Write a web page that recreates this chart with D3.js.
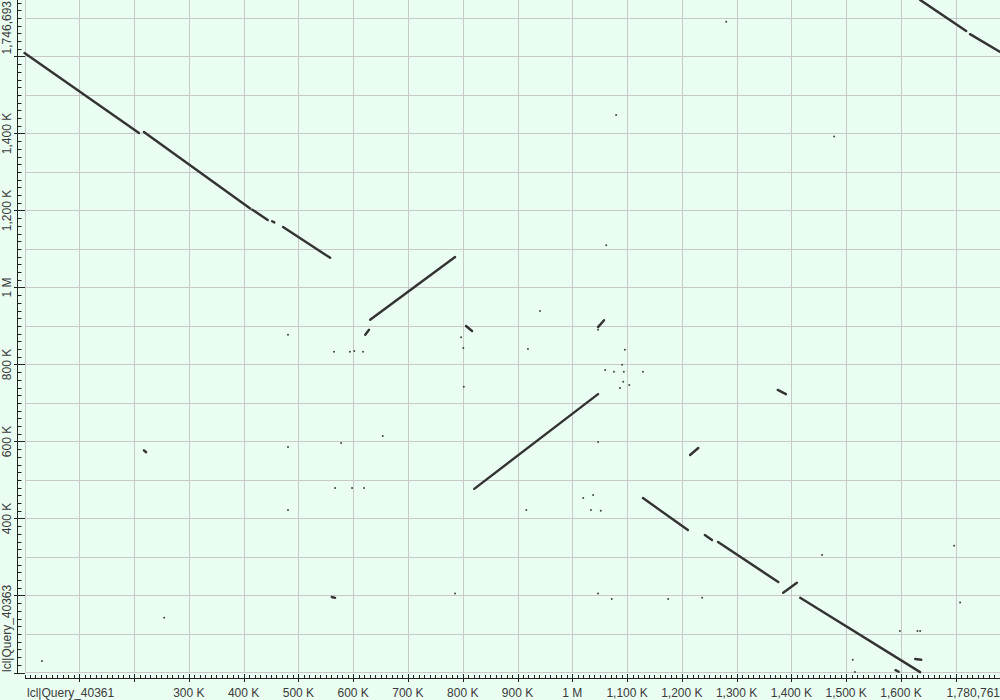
<!DOCTYPE html>
<html>
<head>
<meta charset="utf-8">
<script src="https://d3js.org/d3.v7.min.js"></script>
<style>
  html, body { margin: 0; padding: 0; background: #eafef2; }
  svg text { font-family: "Liberation Sans", Arial, sans-serif; font-size: 12px; fill: #3a3a3a; }
</style>
</head>
<body>
<div id="chart"></div>
<script>
// sequence names and lengths (bp)
const queryName = "lcl|Query_40361";
const subjectName = "lcl|Query_40363";
const queryLength = 1780761;
const subjectLength = 1746693;

// alignments: [queryStart, queryEnd, subjectStart, subjectEnd] in kb
const hits = [
    [0, 209, 1609, 1401],
    [218, 412, 1404, 1205],
    [416, 444, 1202, 1175],
    [452, 456, 1172, 1169],
    [472, 558, 1157, 1077],
    [622, 629, 877, 890],
    [631, 786, 916, 1079],
    [806, 817, 900, 887],
    [821, 1047, 477, 723],
    [1047, 1058, 897, 915],
    [1129, 1211, 453, 370],
    [1242, 1255, 357, 344],
    [1266, 1376, 339, 235],
    [1385, 1410, 207, 233],
    [1416, 1635, 194, 1],
    [1215, 1230, 565, 583],
    [1375, 1390, 734, 723],
    [1626, 1637, 35, 33],
    [1590, 1596, 6, 2],
    [1635, 1719, 1747, 1666],
    [1726, 1781, 1658, 1612],
    [218, 222, 577, 572],
    [561, 567, 196, 194]
];

// short hits that show up as dots: [query, subject] in kb
const dots = [
    [32, 30], [255, 142], [481, 877], [481, 586], [481, 422],
    [565, 833], [594, 833], [602, 835], [618, 833],
    [567, 479], [598, 479], [620, 479], [578, 596], [654, 614],
    [786, 205], [797, 871], [801, 843], [802, 742],
    [919, 840], [941, 939], [916, 422],
    [1020, 453], [1038, 461], [1034, 422], [1052, 420], [1047, 599], [1047, 890],
    [1096, 838], [1091, 799], [1060, 786], [1076, 781], [1094, 781], [1129, 781],
    [1093, 755], [1087, 739], [1104, 747],
    [1062, 1110], [1080, 1448], [1281, 1690], [1478, 1392],
    [1047, 205], [1072, 191], [1175, 191], [1237, 194],
    [1456, 305], [1512, 33], [1516, 1], [1598, 108], [1630, 108], [1635, 108],
    [1697, 329], [1708, 182]
];

// tick labels
const xLabelTicks = [300, 400, 500, 600, 700, 800, 900, 1000, 1100, 1200, 1300, 1400, 1500, 1600];
const yLabelTicks = [400, 600, 800, 1000, 1200, 1400];

const width = 1000, height = 700;
const svg = d3.select("#chart").append("svg")
    .attr("width", width)
    .attr("height", height);

const x = d3.scaleLinear().domain([0, queryLength]).range([24.5, 1000]);
const y = d3.scaleLinear().domain([0, subjectLength]).range([672.5, 0]);

const fmt = v => v === 1000 ? "1 M" : d3.format(",")(v) + " K";

// grid
svg.append("g").selectAll("line")
    .data(d3.range(100000, queryLength, 100000))
    .join("line")
    .attr("x1", d => Math.round(x(d)) + 0.5).attr("x2", d => Math.round(x(d)) + 0.5)
    .attr("y1", 0).attr("y2", 672)
    .attr("stroke", "#c8c8c8");

svg.append("g").selectAll("line")
    .data(d3.range(100000, subjectLength, 100000))
    .join("line")
    .attr("y1", d => Math.round(y(d)) + 0.5).attr("y2", d => Math.round(y(d)) + 0.5)
    .attr("x1", 25).attr("x2", 1000)
    .attr("stroke", "#c8c8c8");

// plot frame
svg.append("line").attr("x1", 25.5).attr("x2", 25.5).attr("y1", 0).attr("y2", 672.5).attr("stroke", "#c8c8c8");
svg.append("line").attr("x1", 25).attr("x2", 1000).attr("y1", 672.5).attr("y2", 672.5).attr("stroke", "#c8c8c8");

// x axis
const xAxis = svg.append("g");
xAxis.append("line").attr("x1", 25).attr("x2", 1000).attr("y1", 678.5).attr("y2", 678.5).attr("stroke", "#222");
xAxis.selectAll(".minor")
    .data(d3.range(0, queryLength, 10000))
    .join("line")
    .attr("x1", d => Math.round(x(d)) + 0.5).attr("x2", d => Math.round(x(d)) + 0.5)
    .attr("y1", 675).attr("y2", 678.5)
    .attr("stroke", "#222");
xAxis.selectAll(".major")
    .data(d3.range(100000, queryLength, 100000))
    .join("line")
    .attr("x1", d => Math.round(x(d)) + 0.5).attr("x2", d => Math.round(x(d)) + 0.5)
    .attr("y1", 674).attr("y2", 682)
    .attr("stroke", "#222");
xAxis.selectAll("text.tick")
    .data(xLabelTicks)
    .join("text")
    .attr("x", d => x(d * 1000))
    .attr("y", 697)
    .attr("text-anchor", "middle")
    .text(fmt);
xAxis.append("text").attr("x", 27).attr("y", 697).text(queryName);
xAxis.append("text").attr("x", 1000).attr("y", 697).attr("text-anchor", "end")
    .text(d3.format(",")(queryLength));

// y axis
const yAxis = svg.append("g");
yAxis.append("line").attr("x1", 17.5).attr("x2", 17.5).attr("y1", 0).attr("y2", 673).attr("stroke", "#222");
yAxis.selectAll(".minor")
    .data(d3.range(0, subjectLength, 20000))
    .join("line")
    .attr("y1", d => Math.round(y(d)) + 0.5).attr("y2", d => Math.round(y(d)) + 0.5)
    .attr("x1", 17).attr("x2", 21.5)
    .attr("stroke", "#222");
yAxis.selectAll(".major")
    .data(d3.range(0, subjectLength, 200000))
    .join("line")
    .attr("y1", d => Math.round(y(d)) + 0.5).attr("y2", d => Math.round(y(d)) + 0.5)
    .attr("x1", 14).attr("x2", 25)
    .attr("stroke", "#222");
yAxis.selectAll("text.tick")
    .data(yLabelTicks)
    .join("text")
    .attr("transform", d => `translate(11,${y(d * 1000)}) rotate(-90)`)
    .attr("text-anchor", "middle")
    .text(fmt);
yAxis.append("text")
    .attr("transform", "translate(11,672) rotate(-90)")
    .text(subjectName);
yAxis.append("text")
    .attr("transform", "translate(11,1) rotate(-90)")
    .attr("text-anchor", "end")
    .text(d3.format(",")(subjectLength));

// hits
svg.append("g").selectAll("line")
    .data(hits)
    .join("line")
    .attr("x1", d => x(d[0] * 1000)).attr("x2", d => x(d[1] * 1000))
    .attr("y1", d => y(d[2] * 1000)).attr("y2", d => y(d[3] * 1000))
    .attr("stroke", "#333")
    .attr("stroke-width", 2.4)
    .attr("stroke-linecap", "round");

svg.append("g").selectAll("circle")
    .data(dots)
    .join("circle")
    .attr("cx", d => x(d[0] * 1000))
    .attr("cy", d => y(d[1] * 1000))
    .attr("r", 1)
    .attr("fill", "#444");
</script>
</body>
</html>
